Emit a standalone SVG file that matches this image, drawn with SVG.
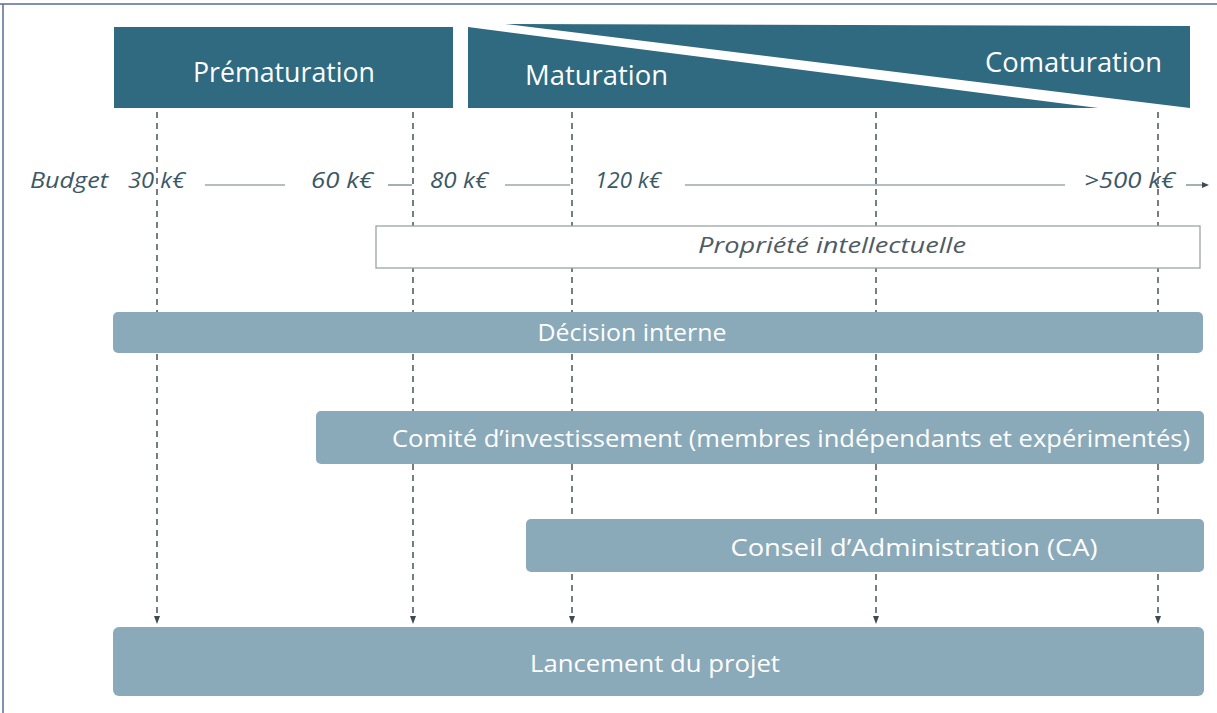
<svg xmlns="http://www.w3.org/2000/svg" width="1217" height="713" viewBox="0 0 1217 713">
<style>
.hdr{fill:#2f6a80}
.hdrt{fill:#ffffff;font-family:"Open Sans","Liberation Sans",sans-serif;font-size:27px}
.bar{fill:#8aaaba}
.bart{fill:#ffffff;font-family:"Open Sans","Liberation Sans",sans-serif;font-size:24px;text-anchor:middle}
.bud{fill:#3b5867;font-family:"Open Sans","Liberation Sans",sans-serif;font-size:21px;font-style:italic}
.bl{stroke:#6a7c86;stroke-width:1.2;fill:none}
.dash{stroke:#555e63;stroke-width:1.6;stroke-dasharray:6 5;fill:none}
</style>
<defs>
<marker id="ah" markerWidth="8" markerHeight="8" refX="4" refY="4" orient="auto" markerUnits="userSpaceOnUse">
<path d="M0,1 L8,4 L0,7 Z" fill="#3d4a52"/>
</marker>
</defs>
<rect x="0" y="0" width="1217" height="713" fill="#ffffff"/>
<g id="frame">
<line x1="0" y1="4" x2="1217" y2="4" stroke="#5a6a9a" stroke-width="1.5"/>
<line x1="3" y1="4" x2="3" y2="713" stroke="#5a6a9a" stroke-width="1.5"/>
</g>
<g id="connectors">
<line class="dash" x1="157" y1="112" x2="157" y2="620" marker-end="url(#ah)"/>
<line class="dash" x1="413" y1="112" x2="413" y2="620" marker-end="url(#ah)"/>
<line class="dash" x1="572" y1="112" x2="572" y2="620" marker-end="url(#ah)"/>
<line class="dash" x1="876" y1="112" x2="876" y2="620" marker-end="url(#ah)"/>
<line class="dash" x1="1158" y1="112" x2="1158" y2="620" marker-end="url(#ah)"/>
</g>
<g id="prematuration">
<rect class="hdr" x="114" y="27" width="339" height="81"/>
<text class="hdrt" x="193" y="82" textLength="182" lengthAdjust="spacingAndGlyphs">Prématuration</text>
</g>
<g id="maturation">
<polygon class="hdr" points="468,27 1098,108 468,108"/>
<text class="hdrt" x="525" y="85" textLength="143" lengthAdjust="spacingAndGlyphs">Maturation</text>
</g>
<g id="comaturation">
<polygon class="hdr" points="505,24 1190,26 1190,108"/>
<text class="hdrt" x="985" y="72" textLength="177" lengthAdjust="spacingAndGlyphs">Comaturation</text>
</g>
<g id="budget">
<text class="bud" x="30" y="188" textLength="78" lengthAdjust="spacingAndGlyphs">Budget</text>
<text class="bud" x="128" y="188" textLength="57" lengthAdjust="spacingAndGlyphs">30 k€</text>
<line class="bl" x1="205" y1="185" x2="285" y2="185"/>
<text class="bud" x="311" y="188" textLength="62" lengthAdjust="spacingAndGlyphs">60 k€</text>
<line class="bl" x1="388" y1="185" x2="412" y2="185"/>
<text class="bud" x="430" y="188" textLength="58" lengthAdjust="spacingAndGlyphs">80 k€</text>
<line class="bl" x1="505" y1="185" x2="570" y2="185"/>
<text class="bud" x="595" y="188" textLength="66" lengthAdjust="spacingAndGlyphs">120 k€</text>
<line class="bl" x1="685" y1="185" x2="1065" y2="185"/>
<text class="bud" x="1084" y="188" textLength="91" lengthAdjust="spacingAndGlyphs">&gt;500 k€</text>
<line class="bl" x1="1186" y1="185" x2="1203" y2="185"/>
<path d="M1202,182 L1209,185 L1202,188 Z" fill="#3d4a52"/>
</g>
<g id="propriete">
<rect x="376" y="226" width="824" height="42" fill="#ffffff" stroke="#9aa3a8" stroke-width="1.3"/>
<text x="698" y="253" fill="#4f5b63" font-family="'Open Sans','Liberation Sans',sans-serif" font-size="22" font-style="italic" textLength="268" lengthAdjust="spacingAndGlyphs">Propriété intellectuelle</text>
</g>
<g id="decision">
<rect class="bar" x="113" y="312" width="1090" height="41" rx="5"/>
<text class="bart" x="632" y="341" textLength="189" lengthAdjust="spacingAndGlyphs">Décision interne</text>
</g>
<g id="comite">
<rect class="bar" x="316" y="411" width="888" height="53" rx="5"/>
<text class="bart" x="791" y="447" textLength="798" lengthAdjust="spacingAndGlyphs">Comité d’investissement (membres indépendants et expérimentés)</text>
</g>
<g id="conseil">
<rect class="bar" x="526" y="519" width="678" height="53" rx="5"/>
<text class="bart" x="914" y="556" textLength="367" lengthAdjust="spacingAndGlyphs">Conseil d’Administration (CA)</text>
</g>
<g id="lancement">
<rect class="bar" x="113" y="627" width="1091" height="69" rx="6"/>
<text class="bart" x="655" y="672" font-size="25" textLength="250" lengthAdjust="spacingAndGlyphs">Lancement du projet</text>
</g>
</svg>
